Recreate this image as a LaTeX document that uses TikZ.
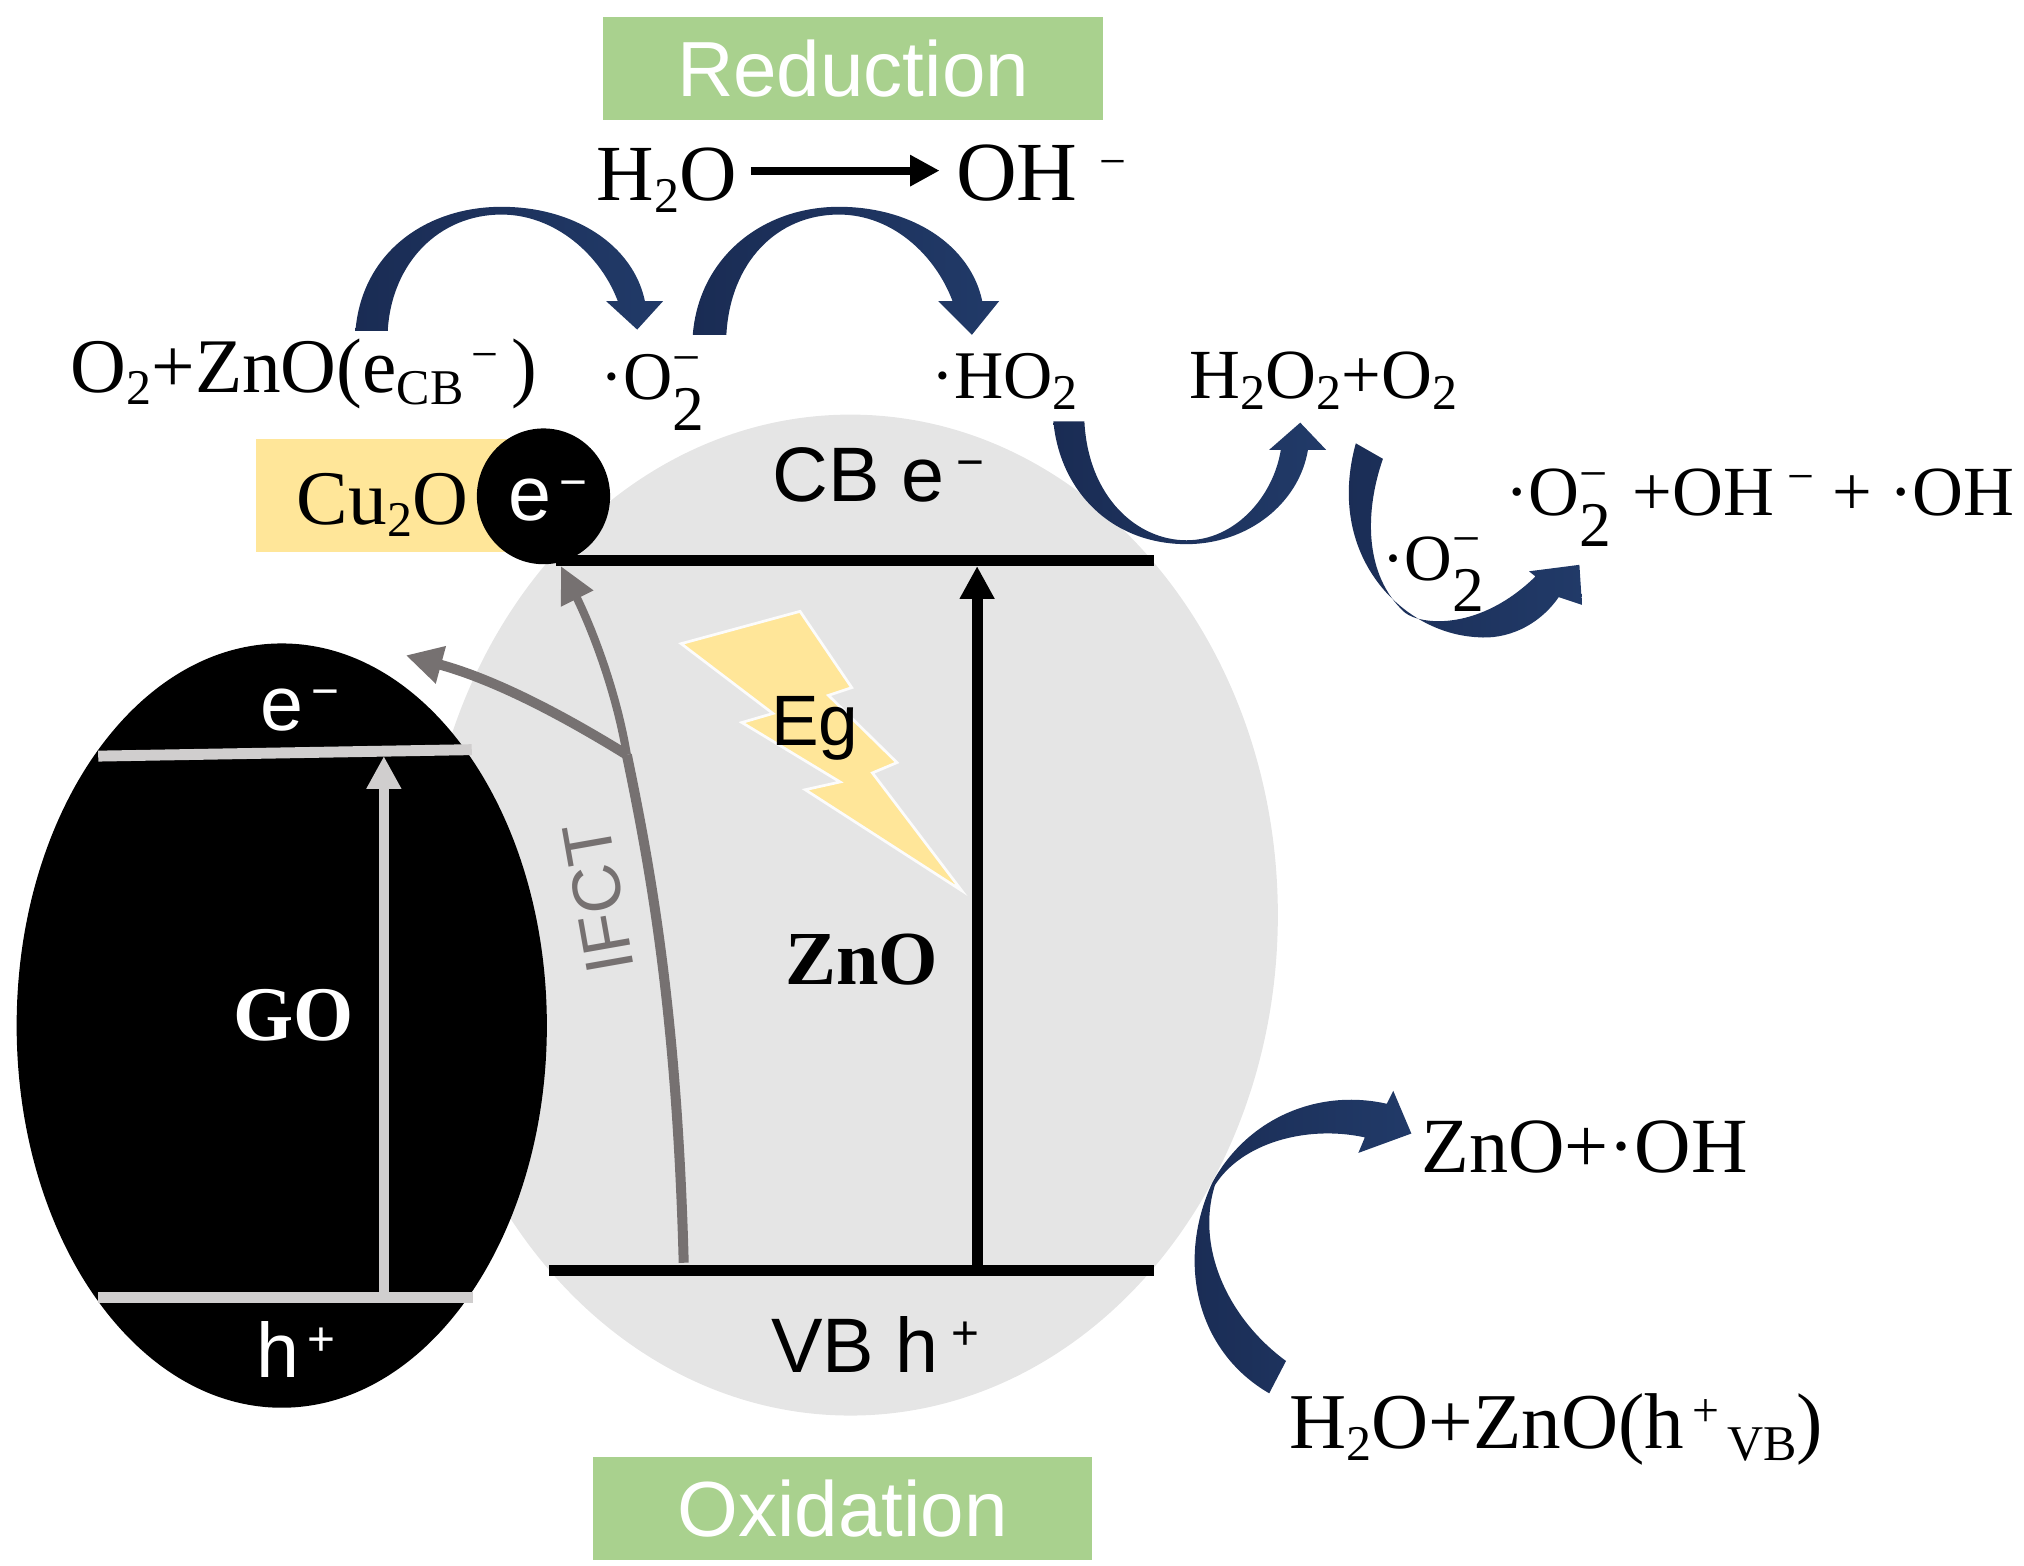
\documentclass[tikz,border=0pt]{standalone}
\usepackage{fontspec}
\setmainfont{Liberation Serif}
\setsansfont{Liberation Sans}
\usetikzlibrary{arrows.meta,positioning,shapes.geometric}
\definecolor{zincgrey}{HTML}{E5E5E5}
\definecolor{leaf}{HTML}{A9D18E}
\definecolor{butter}{HTML}{FFE699}
\definecolor{navy}{HTML}{213A68}
\definecolor{navydark}{HTML}{1A2C54}
\definecolor{ifct}{HTML}{767171}
\definecolor{golevel}{HTML}{D0CECE}
\newcommand{\lowtxt}[1]{\raisebox{-2.6pt}{\fontsize{11}{12}\selectfont #1}}
\newcommand{\hightxt}[1]{\raisebox{5pt}{\fontsize{10.5}{12}\selectfont #1}}
\newcommand{\bigradical}{\textperiodcentered O\rlap{\raisebox{-6.8pt}{\fontsize{14}{14}\selectfont 2}}\raisebox{5.5pt}{\fontsize{11}{11}\selectfont −}}
\begin{document}
\begin{tikzpicture}[x=0.01cm,y=-0.01cm,>={Triangle[length=7.2pt,width=7.2pt]},
			font=\fontsize{17}{20}\selectfont]
			\tikzstyle{chem}=[anchor=base west,inner sep=0pt,text=black]
			\tikzstyle{band}=[anchor=base west,inner sep=0pt,font=\fontsize{17}{20}\selectfont\sffamily]
			\tikzstyle{redox}=[rectangle,fill=leaf,text=white,minimum width=3.86cm,minimum height=0.8cm,inner sep=0pt,font=\fontsize{17.2}{20}\selectfont\sffamily]
			\tikzstyle{level}=[line width=2.4pt]
			\tikzstyle{golevelline}=[draw=golevel,line width=2.4pt]
			\tikzstyle{transfer}=[draw=ifct,line width=2.2pt]
			\tikzstyle{curved}=[left color=navydark,right color=navy,draw=none]
			\useasboundingbox (0,0) rectangle (1566,1211.6);
			\node[ellipse,fill=zincgrey,minimum width=6.61cm,minimum height=7.74cm,inner sep=0pt] (ZnOball) at (658,708) {};
			\node[ellipse,fill=black,minimum width=4.1cm,minimum height=5.91cm,inner sep=0pt] (GOball) at (218,793.5) {};
			\node[redox] (reduction) at (660,53) {\raisebox{-0.7pt}{Reduction}};
			\node[redox] (oxidation) at (652,1167) {Oxidation};
			\node[rectangle,fill=butter,minimum width=2cm,minimum height=0.87cm,inner sep=0pt,anchor=west] (Cu2Obox) at (197,383.5) {};
			\node[ellipse,fill=black,minimum width=1.03cm,minimum height=1.05cm,inner sep=0pt] (eball) at (420.5,384) {};
			\node[chem] (Cu2O) at (229,406) {Cu\lowtxt{2}O};
			\node[band,text=white] (eCu) at (393,403) {e\hightxt{\,−}};
			\node[band] (CBe) at (597,388) {CB e\hspace{1pt}\hightxt{\,−}};
			\node[band] (VBh) at (596,1062) {VB h\hspace{1pt}\hightxt{\,+}};
			\node[band,text=white] (eGO) at (201,565) {e\hightxt{\,−}};
			\node[band,text=white] (hGO) at (198,1066) {h\hightxt{\,+}};
			\fill[butter,draw=white!90!zincgrey,line width=0.6pt] (527,498) -- (619,473) -- (659,532) -- (641,538) -- (694,590) -- (675,598) -- (744,689) -- (623,611) -- (650,605) -- (574,559) -- (598,552) -- cycle;
			\node[band,font=\fontsize{15.7}{20}\selectfont\sffamily] (Eg) at (596,577) {Eg};
			\node[chem,font=\fontsize{16.8}{20}\selectfont\bfseries] (ZnO) at (607,762) {ZnO};
			\node[chem,text=white,font=\fontsize{17}{20}\selectfont\bfseries] (GO) at (180,805) {GO};
			\node[band,text=ifct,rotate=100,anchor=center,font=\fontsize{15}{18}\selectfont\sffamily] (IFCT) at (463,695) {IFCT};

			\node[chem,font=\fontsize{17.5}{20}\selectfont] (H2O) at (461,155) {H\lowtxt{2}O};
			\node[chem,font=\fontsize{18.5}{20}\selectfont] (OH) at (739,155) {OH\hspace{3pt}\hightxt{\,−}};
			\node[chem] (O2ZnO) at (54,304) {O\lowtxt{2}+ZnO(e\lowtxt{CB}\hightxt{\,−}\,)};
			\node[chem,font=\fontsize{15}{20}\selectfont] (O2rad) at (464,309) {\bigradical};
			\node[chem,font=\fontsize{15}{20}\selectfont] (HO2) at (720,308) {\textperiodcentered HO\lowtxt{2}};
			\node[chem,font=\fontsize{15.5}{20}\selectfont] (H2O2) at (920,308) {H\lowtxt{2}O\lowtxt{2}+O\lowtxt{2}};
			\node[chem,font=\fontsize{15.5}{20}\selectfont] (products) at (1164,399) {\bigradical\hspace{5.4pt}+OH\hspace{3pt}\hightxt{−} + \textperiodcentered OH};
			\node[chem,font=\fontsize{14.5}{20}\selectfont] (O2low) at (1069,449) {\bigradical};
			\node[chem,font=\fontsize{17.2}{20}\selectfont] (ZnOOH) at (1099,907) {ZnO+\textperiodcentered OH};
			\node[chem,font=\fontsize{17.4}{20}\selectfont] (H2OZnO) at (997,1121) {H\lowtxt{2}O+ZnO(h\hightxt{\,+}\lowtxt{\,VB})};

			\coordinate (CBl) at (430,434);
			\coordinate (CBr) at (893,434);
			\coordinate (VBl) at (425,983);
			\coordinate (VBr) at (893,983);
			\coordinate (CBup) at (756,438);
			\coordinate (VBup) at (756,983);
			\coordinate (GOeL) at (76,585);
			\coordinate (GOeR) at (365,580);
			\coordinate (GOhL) at (76,1004);
			\coordinate (GOhR) at (366,1004);
			\coordinate (GOup) at (297,585);
			\coordinate (GOfoot) at (297,1004);
			\coordinate (IFCTfoot) at (529,977);
			\coordinate (IFCTfork) at (485,584);
			\coordinate (IFCTtip) at (434,438);
			\coordinate (IFCTleft) at (314,507);
			\coordinate (H2Oout) at (581,132);
			\coordinate (OHin) at (727,132);

			\path[draw,level] (CBl) -- (CBr);
			\path[draw,level] (VBl) -- (VBr);
			\path[draw,golevelline] (GOeL) -- (GOeR);
			\path[draw,golevelline] (GOhL) -- (GOhR);
			\draw[->,draw=golevel,line width=2.3pt] (GOfoot) -- (GOup);
			\draw[level,->] (VBup) -- (CBup);
			\draw[->,line width=1.8pt,>={Triangle[length=6.5pt,width=6.5pt]}] (H2Oout) -- (OHin);
			\draw[transfer] (IFCTfoot) .. controls (524,790) and (505,680) .. (IFCTfork);
			\draw[transfer,->,line width=1.8pt,>={Triangle[length=8pt,width=7.5pt]}] (IFCTfork) .. controls (476,530) and (455,480) .. (IFCTtip);
			\draw[transfer,->,>={Triangle[length=8pt,width=8pt]}] (IFCTfork) .. controls (430,550) and (380,525) .. (IFCTleft);

			\coordinate (arcAtail) at (275,256);
			\coordinate (arcBtail) at (536,259);
			\coordinate (arcCtail) at (815,326);
			\coordinate (arcDtail) at (1049,343);
			\coordinate (arcEtail) at (995,1053);
			\path[curved] (arcAtail) .. controls (280,195) and (330,160) .. (388,160) .. controls (445,160) and (490,190) .. (499,233) -- (513,233) -- (493,255) -- (469,233) -- (478,233) .. controls (465,198) and (430,166) .. (388,166) .. controls (340,166) and (303,203) .. (300,256) -- cycle;
			\path[curved] (arcBtail) .. controls (541,198) and (591,160) .. (649,160) .. controls (706,160) and (751,190) .. (760,233) -- (773,233) -- (752,259) -- (726,233) -- (737,233) .. controls (724,198) and (691,166) .. (649,166) .. controls (601,166) and (565,203) .. (562,259) -- cycle;
			\path[curved] (arcCtail) .. controls (820,380) and (860,421) .. (918,421) .. controls (965,421) and (1005,390) .. (1012,348) -- (1026,348) -- (1006,327) -- (982,348) -- (991,348) .. controls (985,385) and (955,418) .. (918,418) .. controls (880,418) and (842,385) .. (839,326) -- cycle;
			\path[curved] (arcDtail) -- (1070,355) .. controls (1056,395) and (1055,445) .. (1087,474) .. controls (1100,484) and (1145,488) .. (1188,446) -- (1183,442) -- (1222,437) -- (1224,468) -- (1206,462) .. controls (1190,485) and (1165,495) .. (1143,493) .. controls (1085,490) and (1025,430) .. (arcDtail) -- cycle;
			\path[curved] (arcEtail) .. controls (950,1020) and (925,965) .. (940,917) .. controls (960,885) and (1010,870) .. (1056,880) -- (1051,892) -- (1092,877) -- (1078,844) -- (1073,854) .. controls (1020,842) and (965,865) .. (938,915) .. controls (910,975) and (925,1045) .. (982,1078) -- cycle;
			\end{tikzpicture}
\end{document}
